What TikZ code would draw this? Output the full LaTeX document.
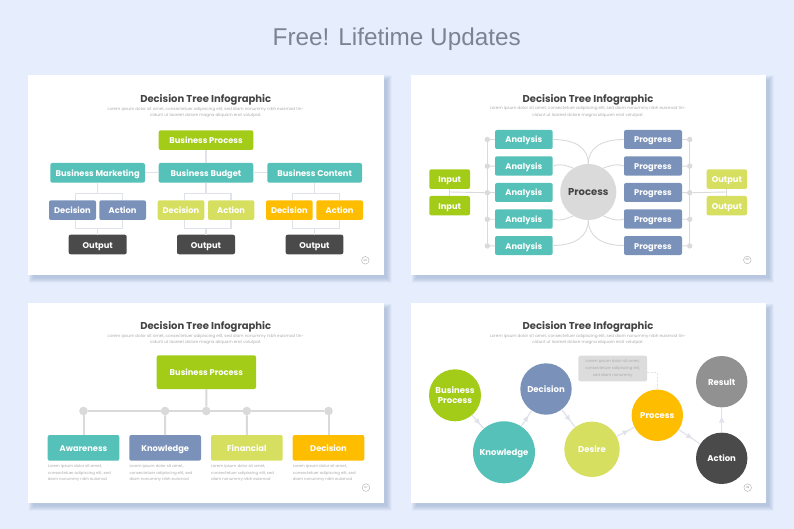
\documentclass[tikz,border=0pt]{standalone}
\usepackage{fontspec}
\setmainfont{Poppins}
\newfontfamily\arialfont{Liberation Sans}
\usetikzlibrary{decorations.markings,calc}
\definecolor{pagebg}{HTML}{E6EEFD}
\definecolor{shadowc}{HTML}{9FAFD0}
\definecolor{cgreen}{HTML}{A3CC19}
\definecolor{cteal}{HTML}{56C1B8}
\definecolor{cblue}{HTML}{7A92BA}
\definecolor{clime}{HTML}{D6DF5F}
\definecolor{camber}{HTML}{FFBD00}
\definecolor{cdark}{HTML}{4A4A4A}
\definecolor{cgray}{HTML}{919191}
\definecolor{clink}{HTML}{DFE2EA}
\definecolor{cbus}{HTML}{DADADA}
\definecolor{ctitle}{HTML}{444444}
\definecolor{clorem}{HTML}{ABABAB}
\definecolor{ctop}{HTML}{7C8494}
\definecolor{cnote}{HTML}{DCDCDC}
\newcommand\sz[1]{\fontsize{#1}{#1}\selectfont}
\tikzset{
  x=1pt,y=-1pt,
  lbl/.style={text=white,font=\sz{8.3}\bfseries,inner sep=0pt,outer sep=0pt,rounded corners=2pt,align=center,text height=7pt,text depth=0pt},
  headt/.style={text=ctitle,font=\sz{10}\bfseries,inner sep=0pt,text height=7pt,text depth=0pt},
  lorem/.style={text=clorem,font=\sz{4.1},inner sep=0pt,align=center,text height=2.9pt,text depth=0pt},
  loremb/.style={text=clorem,font=\sz{3.9},inner sep=0pt,align=left,anchor=west,text height=2.8pt,text depth=0pt},
  wire/.style={draw=clink,line width=1.25pt},
  busl/.style={draw=cbus,line width=.9pt},
  busdot/.style={circle,fill=cbus,minimum size=5.4pt,inner sep=0pt,outer sep=0pt},
  bigdot/.style={circle,fill=cbus,minimum size=8.6pt,inner sep=0pt,outer sep=0pt},
  pagen/.style={circle,draw=gray!70,line width=.35pt,minimum size=7.6pt,inner sep=0pt,text=gray,font=\sz{2.6}},
  ball/.style={circle,inner sep=0pt,outer sep=0pt,text=white,font=\sz{8.5}\bfseries,align=center,text height=6.6pt,text depth=0pt},
  midtri/.style={draw=clink,line width=1.1pt,postaction={decorate},decoration={markings,mark=at position .5 with {\fill[clink] (3,0) -- (-2.5,2.7) -- (-2.5,-2.7) -- cycle;}}},
}
\newcommand\bx[7]{\node[lbl,fill=#6,minimum width={#4-#2},minimum height={#5-#3}] (#1) at ({(#2+#4)/2},{(#3+#5)/2}) {#7};}
\newcommand\panel[4]{%
  \foreach \s in {-1.5,-1,-.5,0,.5,1,1.5,2,2.5,3,3.5}{\fill[shadowc,opacity=.075] ({#1+4-\s},{#2+4-\s}) rectangle ({#3+4+\s},{#4+4+\s});}
  \fill[white] (#1,#2) rectangle (#3,#4);}
\newcommand\heads[5]{%
  \node[headt] (#1t) at (#2,#3) {Decision Tree Infographic};
  \node[lorem] (#1a) at (#2,#3+9.7) {Lorem ipsum dolor sit amet, consectetuer adipiscing elit, sed diam nonummy nibh euismod tin-};
  \node[lorem] (#1b) at (#2,#3+16) {cidunt ut laoreet dolore magna aliquam erat volutpat.};
  \node[pagen] (#1n) at (#4,#3+161.3) {#5};}
\newcommand\lorembox[1]{%
  \node[loremb] (#1a) at ($(#1.south west)+(0,5.7)$) {Lorem ipsum dolor sit amet,};
  \node[loremb] (#1b) at ($(#1.south west)+(0,12)$) {consectetuer adipiscing elit, sed};
  \node[loremb] (#1c) at ($(#1.south west)+(0,18.4)$) {diam nonummy nibh euismod};}
\begin{document}
\begin{tikzpicture}
\fill[pagebg] (0,0) rectangle (794,529);
\useasboundingbox (0,0) rectangle (794,529);
\node[inner sep=0pt,text=ctop,font=\arialfont\sz{24.3},anchor=base] (top) at (396.7,45.7) {Free! Lifetime Updates};
\panel{28}{75}{384}{275}
\panel{411}{75}{766}{275}
\panel{28}{303}{384}{503}
\panel{411}{303}{766}{503}
\heads{pa}{205.7}{99}{365.3}{06}
\heads{pb}{588}{98.7}{747.3}{06}
\heads{pc}{205.7}{326.3}{366}{07}
\heads{pd}{588}{326.3}{747.7}{08}
% panel 1
\bx{bp}{158.7}{130.3}{253.3}{150}{cgreen}{Business Process}
\bx{bb}{158.7}{163}{253.3}{182.7}{cteal}{Business Budget}
\bx{bm}{50.3}{163}{145}{182.7}{cteal}{Business Marketing}
\bx{bc}{267.3}{163}{362}{182.7}{cteal}{Business Content}
\bx{da}{49}{200.3}{96}{220}{cblue}{Decision}
\bx{aa}{99.3}{200.3}{146}{220}{cblue}{Action}
\bx{db}{157.7}{200.3}{204.3}{220}{clime}{Decision}
\bx{ab}{208}{200.3}{254.3}{220}{clime}{Action}
\bx{dc}{266}{200.3}{312.7}{220}{camber}{Decision}
\bx{ac}{316.3}{200.3}{363}{220}{camber}{Action}
\bx{oa}{68.7}{234.7}{126.7}{254.3}{cdark}{Output}
\bx{ob}{177}{234.7}{235}{254.3}{cdark}{Output}
\bx{oc}{285.7}{234.7}{343.3}{254.3}{cdark}{Output}
\draw[wire] (bp) -- (bb);
\draw[wire] (bm) -- (bb);
\draw[wire] (bb) -- (bc);
\foreach \m/\d/\a/\o in {bm/da/aa/oa,bb/db/ab/ob,bc/dc/ac/oc}{
  \draw[wire] (\m.south) -- ++(0,10.6) coordinate (j\m);
  \draw[wire] ([xshift=3.2pt]\d.north) |- (j\m) -| ([xshift=-.2pt]\a.north);
  \draw[wire] ([xshift=3.2pt]\d.south) |- ([yshift=6.4pt]\o.north) -| ([xshift=-.2pt]\a.south);
  \draw[wire] (\o.north) -- ++(0,-6.4);
}
% panel 2
\bx{ia}{429.3}{169.3}{470}{189}{cgreen}{Input}
\bx{ib}{429.3}{196}{470}{215.3}{cgreen}{Input}
\bx{ua}{706.7}{169.3}{747}{189}{clime}{Output}
\bx{ub}{706.7}{196}{747}{215.3}{clime}{Output}
\bx{an1}{495}{130}{552.7}{149}{cteal}{Analysis}
\bx{an2}{495}{156.3}{552.7}{175.7}{cteal}{Analysis}
\bx{an3}{495}{183}{552.7}{202}{cteal}{Analysis}
\bx{an4}{495}{209.3}{552.7}{228.7}{cteal}{Analysis}
\bx{an5}{495}{236}{552.7}{255}{cteal}{Analysis}
\bx{pr1}{624}{130}{682}{149}{cblue}{Progress}
\bx{pr2}{624}{156.3}{682}{175.7}{cblue}{Progress}
\bx{pr3}{624}{183}{682}{202}{cblue}{Progress}
\bx{pr4}{624}{209.3}{682}{228.7}{cblue}{Progress}
\bx{pr5}{624}{236}{682}{255}{cblue}{Progress}
\node[circle,fill=cbus,minimum size=56pt,inner sep=0pt,text=ctitle,font=\sz{10}\bfseries,text height=7pt,text depth=0pt] (pcs) at (588.3,192) {Process};
\foreach \i in {1,...,5}{
  \node[busdot] (ld\i) at (487.3,{139.5+26.6*(\i-1)}) {};
  \node[busdot] (rd\i) at (689.7,{139.5+26.6*(\i-1)}) {};
  \draw[busl] (ld\i) -- (an\i);
  \draw[busl] (rd\i) -- (pr\i);
}
\draw[busl] (ld1) -- (ld5);
\draw[busl] (rd1) -- (rd5);
\draw[busl] (ia) -- (ib);
\draw[busl] (ua) -- (ub);
\coordinate (ij) at (449.6,192);
\coordinate (uj) at (726.8,192);
\draw[busl] (ij) -- (ld3);
\draw[busl] (uj) -- (rd3);
\draw[busl] (an1.east) .. controls +(24,0) and +(0,-15) .. (pcs.north);
\draw[busl] (pr1.west) .. controls +(-24,0) and +(0,-15) .. (pcs.north);
\draw[busl] (an5.east) .. controls +(24,0) and +(0,15) .. (pcs.south);
\draw[busl] (pr5.west) .. controls +(-24,0) and +(0,15) .. (pcs.south);
\draw[busl] (an2.east) .. controls +(10,-3) and +(-7,-2) .. (pcs.122);
\draw[busl] (pr2.west) .. controls +(-10,-3) and +(7,-2) .. (pcs.58);
\draw[busl] (an4.east) .. controls +(10,3) and +(-7,2) .. (pcs.238);
\draw[busl] (pr4.west) .. controls +(-10,3) and +(7,2) .. (pcs.302);
% panel 3
\bx{tp}{156.7}{355.3}{256}{389}{cgreen}{Business Process}
\bx{b1}{47.7}{435}{119.3}{460.7}{cteal}{Awareness}
\bx{b2}{129.3}{435}{201}{460.7}{cblue}{Knowledge}
\bx{b3}{211}{435}{282.7}{460.7}{clime}{Financial}
\bx{b4}{292.7}{435}{364.3}{460.7}{camber}{Decision}
\node[bigdot] (d1) at (83.5,411) {};
\node[bigdot] (d2) at (165.1,411) {};
\node[bigdot] (dm) at (206.3,411) {};
\node[bigdot] (d3) at (246.8,411) {};
\node[bigdot] (d4) at (328.5,411) {};
\draw[cbus,line width=2pt] (d1) -- (d4);
\draw[cbus,line width=2pt] (tp) -- (dm);
\foreach \i in {1,...,4}{\draw[cbus,line width=2pt] (d\i) -- (b\i);}
\lorembox{b1}\lorembox{b2}\lorembox{b3}\lorembox{b4}
% panel 4
\node[ball,fill=cgreen,minimum size=52pt,text height=16.7pt] (c1) at (455,395.3) {Business\\[1.6pt]Process};
\node[ball,fill=cteal,minimum size=62pt] (c2) at (504,452.3) {Knowledge};
\node[ball,fill=cblue,minimum size=51.4pt] (c3) at (546,389) {Decision};
\node[ball,fill=clime,minimum size=55.4pt] (c4) at (592,449.3) {Desire};
\node[ball,fill=camber,minimum size=51.4pt] (c5) at (657.3,415.3) {Process};
\node[ball,fill=cdark,minimum size=51.4pt] (c6) at (721.7,458.3) {Action};
\node[ball,fill=cgray,minimum size=51.4pt] (c7) at (721.7,381.7) {Result};
\foreach \a/\b in {c1/c2,c2/c3,c3/c4,c4/c5,c5/c6,c6/c7}{\draw[midtri] (\a) -- (\b);}
\node[fill=cnote,rounded corners=2pt,minimum width=68.7pt,minimum height=25.6pt,inner sep=0pt,text=clorem,font=\sz{3.9},align=center] (nt) at (612.7,368.5) {Lorem ipsum dolor sit amet,\\[2.4pt]consectetuer adipiscing elit,\\[2.4pt]sed diam nonummy};
\draw[clink,line width=.6pt,dashed,dash pattern=on 2pt off 1.6pt] (nt.east |- 0,372.3) -| (c5.north);
\end{tikzpicture}
\end{document}
